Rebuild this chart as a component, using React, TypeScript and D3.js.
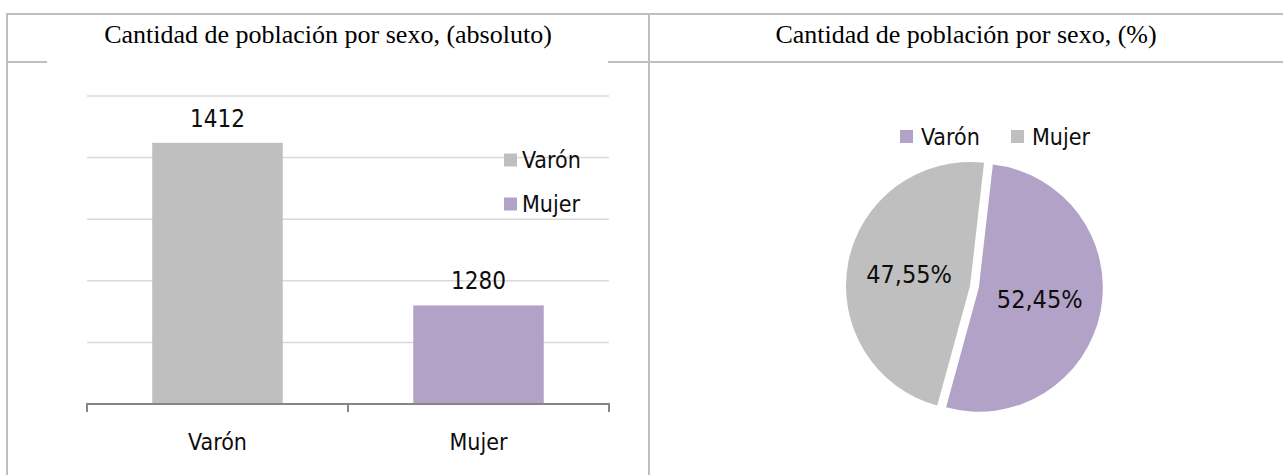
import React, { useRef, useEffect } from 'react';
import * as d3 from 'd3';

// bar chart data
const categories = ['Varón', 'Mujer'];
const barValues = [1412, 1280];
const gridTicks = [1250, 1300, 1350, 1400, 1450];

// pie chart data
const pieLabels = ['Varón', 'Mujer'];
const pieValues = [52.45, 47.55];
const pieText = ['52,45%', '47,55%'];

const GREY = '#bfbfbf';
const PURPLE = '#b3a2c7';
const BORDER = '#bfbfbf';
const SANS = '"DejaVu Sans Condensed", "DejaVu Sans", sans-serif';
const SERIF = '"Liberation Serif", "Times New Roman", serif';

const W = 1283;
const H = 475;

const App: React.FC = () => {
  const svgRef = useRef<SVGSVGElement | null>(null);

  useEffect(() => {
    if (!svgRef.current) return;
    const svg = d3.select(svgRef.current);
    svg.selectAll('*').remove();

    svg.append('rect').attr('width', W).attr('height', H).attr('fill', '#fff');

    // table borders
    const border = svg.append('g').attr('stroke', BORDER).attr('stroke-width', 2);
    border.append('line').attr('x1', 7).attr('x2', W).attr('y1', 14).attr('y2', 14);
    border.append('line').attr('x1', 7).attr('x2', W).attr('y1', 62).attr('y2', 62);
    border.append('line').attr('x1', 7).attr('x2', 7).attr('y1', 13).attr('y2', H);
    border.append('line').attr('x1', 649).attr('x2', 649).attr('y1', 13).attr('y2', H);

    // titles
    svg.append('text')
      .attr('x', 328).attr('y', 43)
      .attr('text-anchor', 'middle')
      .attr('font-family', SERIF).attr('font-size', 26)
      .text('Cantidad de población por sexo, (absoluto)');
    svg.append('text')
      .attr('x', 966).attr('y', 43)
      .attr('text-anchor', 'middle')
      .attr('font-family', SERIF).attr('font-size', 26)
      .text('Cantidad de población por sexo, (%)');

    // ---- bar chart ----
    // chart area covers the header line in the middle of the cell
    svg.append('rect').attr('x', 47).attr('y', 52).attr('width', 561).attr('height', H - 52).attr('fill', '#fff');

    const x = d3.scaleBand<string>()
      .domain(categories)
      .range([87, 609])
      .paddingInner(0.5)
      .paddingOuter(0.25);
    const y = d3.scaleLinear().domain([1200, 1450]).range([404, 96]);

    const bar = svg.append('g');
    bar.selectAll('.grid')
      .data(gridTicks)
      .enter()
      .append('line')
      .attr('x1', 87).attr('x2', 609)
      .attr('y1', d => y(d)).attr('y2', d => y(d))
      .attr('stroke', '#d9d9d9').attr('stroke-width', 1.5);

    bar.selectAll('.bar')
      .data(barValues)
      .enter()
      .append('rect')
      .attr('x', (_d, i) => x(categories[i]) || 0)
      .attr('y', d => y(d))
      .attr('width', x.bandwidth())
      .attr('height', d => y(1200) - y(d))
      .attr('fill', (_d, i) => (i === 0 ? GREY : PURPLE));

    bar.selectAll('.value')
      .data(barValues)
      .enter()
      .append('text')
      .attr('x', (_d, i) => (x(categories[i]) || 0) + x.bandwidth() / 2)
      .attr('y', d => y(d) - 16)
      .attr('text-anchor', 'middle')
      .attr('font-family', SANS).attr('font-size', 24)
      .attr('fill', '#0d0d0d')
      .text(d => String(d));

    // x axis
    const axis = bar.append('g').attr('transform', `translate(0,${y(1200)})`)
      .call(d3.axisBottom(x).tickSize(0).tickPadding(30).tickSizeOuter(0));
    axis.select('.domain').remove();
    axis.selectAll('text')
      .attr('font-family', SANS).attr('font-size', 23).attr('fill', '#0d0d0d');
    const bounds = [87, 348, 609];
    axis.append('line').attr('x1', 86).attr('x2', 610).attr('y1', 0).attr('y2', 0)
      .attr('stroke', '#868686').attr('stroke-width', 2);
    axis.selectAll('.tk')
      .data(bounds)
      .enter()
      .append('line')
      .attr('x1', d => d).attr('x2', d => d)
      .attr('y1', 0).attr('y2', 8)
      .attr('stroke', '#868686').attr('stroke-width', 2);

    // bar legend
    const barLegend = bar.append('g');
    categories.forEach((c, i) => {
      const gy = 160 + i * 44;
      barLegend.append('rect').attr('x', 504).attr('y', gy - 6.5).attr('width', 13).attr('height', 13)
        .attr('fill', i === 0 ? GREY : PURPLE);
      barLegend.append('text').attr('x', 522).attr('y', gy).attr('dy', '0.36em')
        .attr('font-family', SANS).attr('font-size', 23).attr('fill', '#0d0d0d').text(c);
    });

    // ---- pie chart ----
    const cx = 970;
    const cy = 286;
    const r = 124;
    const explode = 9;
    const start = (6.5 * Math.PI) / 180;
    const pie = d3.pie<number>().sort(null).startAngle(start).endAngle(start + 2 * Math.PI);
    const arcs = pie(pieValues);
    const arc = d3.arc<d3.PieArcDatum<number>>().innerRadius(0).outerRadius(r);
    const pieColors = [PURPLE, GREY];

    const pg = svg.append('g').attr('transform', `translate(${cx},${cy})`);
    arcs.forEach((a, i) => {
      const mid = (a.startAngle + a.endAngle) / 2;
      const off = i === 0 ? explode : 0;
      const dx = off * Math.sin(mid);
      const dy = -off * Math.cos(mid);
      const g = pg.append('g').attr('transform', `translate(${dx},${dy})`);
      g.append('path').attr('d', arc(a) || '').attr('fill', pieColors[i]);
      const [lx, ly] = arc.centroid(a);
      g.append('text')
        .attr('x', lx).attr('y', ly).attr('dy', '0.36em')
        .attr('text-anchor', 'middle')
        .attr('font-family', SANS).attr('font-size', 25).attr('fill', '#0d0d0d')
        .text(pieText[i]);
    });

    // pie legend
    const legendX = [900, 1011];
    pieLabels.forEach((l, i) => {
      svg.append('rect').attr('x', legendX[i]).attr('y', 130).attr('width', 13).attr('height', 13)
        .attr('fill', pieColors[i]);
      svg.append('text').attr('x', legendX[i] + 21).attr('y', 137).attr('dy', '0.36em')
        .attr('font-family', SANS).attr('font-size', 23).attr('fill', '#0d0d0d').text(l);
    });
  }, []);

  return (
    <div style={{ position: 'absolute', left: 0, top: 0 }}>
      <svg ref={svgRef} width={W} height={H}></svg>
    </div>
  );
};

export default App;
